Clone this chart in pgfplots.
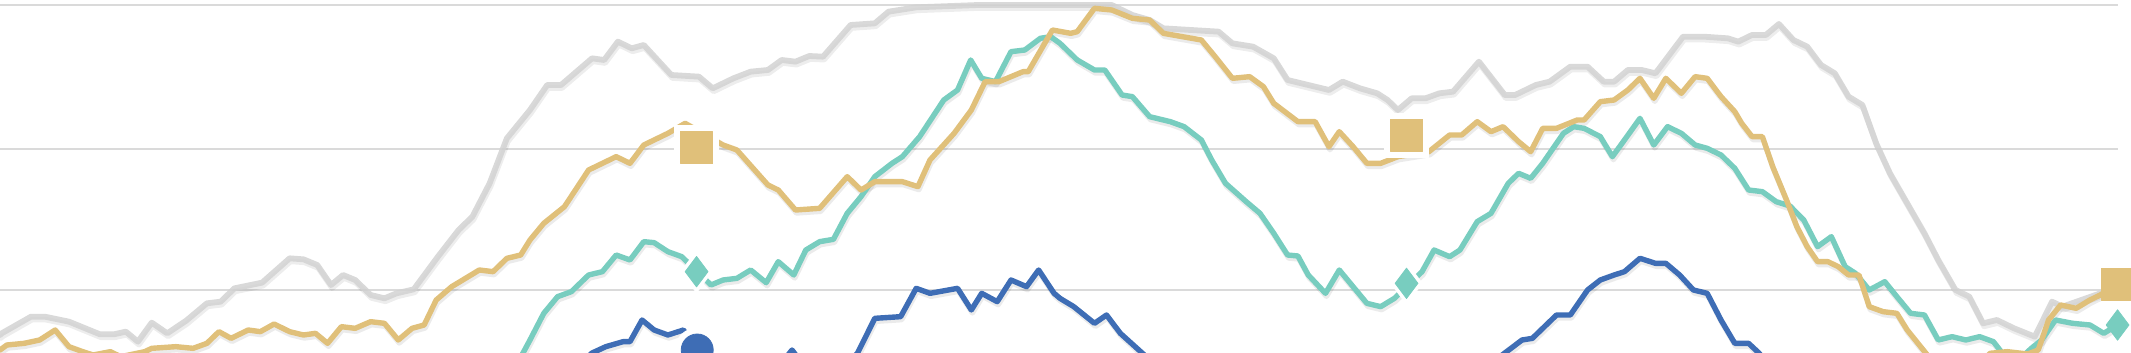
\documentclass[border=0pt]{standalone}
\usepackage{pgfplots}
\usepackage{pgfplotstable}
\pgfplotsset{compat=1.18}
\definecolor{cgold}{HTML}{E0C07A}
\definecolor{cteal}{HTML}{78CDBF}
\definecolor{cblue}{HTML}{3E6DB5}
\definecolor{cgray}{HTML}{D2D2D2}
\definecolor{cgrid}{HTML}{DADADA}
\pgfplotstableread{
x y
0 1005
5 1000
90 950
130 950
200 965
290 1003
330 1003
365 995
400 1025
440 968
485 1000
540 962
600 910
640 905
680 865
760 848
840 775
880 778
920 795
960 855
995 825
1030 840
1075 885
1115 895
1150 880
1200 868
1270 770
1330 690
1370 650
1420 550
1470 415
1537 330
1587 255
1627 255
1717 175
1752 180
1792 125
1832 145
1867 135
1947 225
2027 230
2067 265
2127 235
2177 215
2227 210
2267 180
2307 185
2347 168
2387 170
2467 75
2537 70
2577 35
2657 22
2837 15
3224 15
3284 45
3334 60
3374 85
3534 95
3574 130
3634 140
3694 175
3734 240
3794 255
3854 270
3894 245
3944 265
3994 280
4024 300
4054 330
4094 295
4134 295
4174 280
4214 275
4289 185
4364 285
4394 285
4454 255
4494 245
4554 200
4604 200
4651 245
4681 245
4721 210
4761 210
4801 220
4881 110
4941 110
5011 115
5041 125
5081 105
5121 105
5159 72
5201 120
5241 140
5281 195
5321 220
5361 290
5401 315
5441 430
5481 520
5531 610
5581 700
5621 780
5671 870
5711 890
5751 970
5791 960
5841 985
5901 1010
5951 905
5981 920
6091 880
}\graydata
\pgfplotstableread{
x y
0 1050
20 1035
70 1030
115 1020
160 990
200 1040
240 1055
270 1065
320 1055
350 1070
420 1055
440 1045
510 1040
560 1045
600 1030
635 995
670 1015
720 990
755 995
795 972
840 995
880 1005
915 1000
950 1030
990 980
1030 985
1075 965
1115 970
1155 1020
1195 985
1230 975
1265 900
1310 860
1390 810
1430 815
1470 775
1510 765
1537 720
1577 670
1637 620
1707 510
1787 470
1827 490
1867 435
1937 400
1987 370
2097 435
2137 450
2227 555
2257 570
2307 630
2377 625
2457 530
2497 570
2537 545
2617 545
2662 560
2697 480
2767 400
2817 330
2857 245
2897 245
2967 215
2982 215
3052 90
3105 100
3124 95
3174 25
3224 30
3284 55
3334 60
3374 100
3484 120
3524 170
3574 235
3624 230
3664 260
3694 310
3764 365
3814 365
3854 440
3884 395
3924 440
3964 490
4004 490
4054 470
4144 455
4204 405
4239 405
4284 365
4324 395
4359 380
4404 425
4439 455
4474 385
4514 385
4574 360
4594 360
4641 305
4681 300
4721 270
4756 235
4796 295
4831 235
4876 280
4916 230
4951 235
4991 290
5031 335
5051 370
5081 410
5111 410
5141 500
5181 600
5211 680
5241 740
5271 785
5301 785
5331 800
5361 825
5391 825
5421 920
5461 935
5501 940
5531 990
5601 1080
5750 1085
5771 1060
5821 1055
5881 1062
5911 1050
5941 960
5976 915
6021 925
6061 900
6091 885
6141 850
}\golddata
\pgfplotstableread{
x y
1480 1130
1537 1020
1577 940
1617 890
1657 875
1707 825
1747 815
1787 765
1827 780
1867 725
1897 728
1937 755
1977 770
2062 855
2097 840
2137 835
2177 810
2222 848
2257 785
2302 825
2337 750
2377 725
2417 718
2457 640
2497 590
2537 530
2587 490
2617 470
2667 410
2737 300
2777 270
2815 180
2847 235
2887 245
2932 155
2972 150
3017 115
3047 110
3074 130
3124 180
3174 210
3204 210
3254 285
3284 290
3334 350
3394 365
3434 380
3484 420
3514 480
3554 550
3614 605
3654 640
3694 700
3734 765
3764 768
3794 825
3844 880
3884 810
3924 860
3964 910
4004 920
4044 895
4124 815
4159 750
4204 770
4234 750
4284 665
4324 640
4374 550
4404 520
4439 535
4474 490
4534 400
4564 380
4594 385
4641 410
4676 470
4711 420
4756 355
4796 435
4836 380
4876 400
4916 435
4951 445
4991 465
5031 505
5071 570
5111 575
5151 605
5191 618
5231 660
5271 740
5311 710
5351 800
5381 820
5421 870
5466 845
5501 890
5541 940
5581 945
5621 1020
5661 1010
5701 1020
5741 1010
5781 1025
5811 1065
5860 1075
5891 1045
5921 1020
5961 960
6011 970
6061 975
6101 1000
6141 975
}\tealdata
\pgfplotstableread{
x y
1677 1100
1717 1059
1757 1040
1807 1025
1827 1025
1862 960
1897 990
1937 1005
1982 990
2022 1050
2080 1110
2250 1110
2297 1050
2340 1110
2440 1110
2487 1059
2537 955
2612 950
2657 865
2697 880
2777 865
2817 930
2847 880
2892 905
2932 840
2977 860
3012 810
3057 880
3074 895
3114 920
3174 970
3209 945
3249 1000
3324 1070
3400 1110
4300 1110
4364 1059
4414 1020
4444 1015
4514 945
4554 945
4604 870
4641 840
4681 825
4711 815
4756 775
4801 790
4831 790
4871 825
4911 870
4951 880
4991 960
5031 1030
5071 1030
5101 1059
5150 1120
}\bluedata
\begin{document}
\begin{tikzpicture}
\useasboundingbox (0,0) rectangle (1065.5pt,176.5pt);
\begin{axis}[
  at={(0,0)}, anchor=south west,
  width=1065.5pt, height=176.5pt, scale only axis,
  xmin=0, xmax=6180, ymin=0, ymax=1059, y dir=reverse,
  axis lines=none, ticks=none,
  clip=true, clip marker paths=true,
  every axis plot/.append style={line join=round, line cap=round},
]
% gridlines
\addplot[cgrid, line width=0.8pt, line cap=butt] coordinates {(0,15) (6141,15)};
\addplot[cgrid, line width=0.8pt, line cap=butt] coordinates {(0,447) (6141,447)};
\addplot[cgrid, line width=0.8pt, line cap=butt] coordinates {(0,870) (6141,870)};
% shadows
\addplot[black, opacity=0.07, line width=2.8pt, yshift=-1.5pt, xshift=0.5pt] table[x=x,y=y] {\graydata};
\addplot[black, opacity=0.08, line width=2.7pt, yshift=-1.5pt, xshift=0.5pt] table[x=x,y=y] {\tealdata};
\addplot[black, opacity=0.08, line width=2.7pt, yshift=-1.5pt, xshift=0.5pt] table[x=x,y=y] {\golddata};
\addplot[black, opacity=0.08, line width=2.7pt, yshift=-1.5pt, xshift=0.5pt] table[x=x,y=y] {\bluedata};
% lines
\addplot[cgray, opacity=0.85, line width=2.9pt] table[x=x,y=y] {\graydata};
\addplot[cteal, line width=2.7pt] table[x=x,y=y] {\tealdata};
\addplot[cgold, line width=2.7pt] table[x=x,y=y] {\golddata};
\addplot[cblue, line width=2.7pt] table[x=x,y=y] {\bluedata};
% marker halos
\addplot[only marks, mark=square*, mark size=11pt, white] coordinates {(2020,443) (4079,405)};
\addplot[only marks, mark=diamond*, mark size=10.5pt, white] coordinates {(2020,815) (4079,850)};
\addplot[only marks, mark=*, mark size=11pt, white] coordinates {(2022,1050)};
% markers
\addplot[only marks, mark=square*, mark size=8pt, cgold] coordinates {(2020,443) (4079,405) (6141,852)};
\addplot[only marks, mark=diamond*, mark size=7.6pt, cteal] coordinates {(2020,815) (4079,850) (6141,975)};
\addplot[only marks, mark=*, mark size=8pt, cblue] coordinates {(2022,1050)};
\end{axis}
\end{tikzpicture}
\end{document}
